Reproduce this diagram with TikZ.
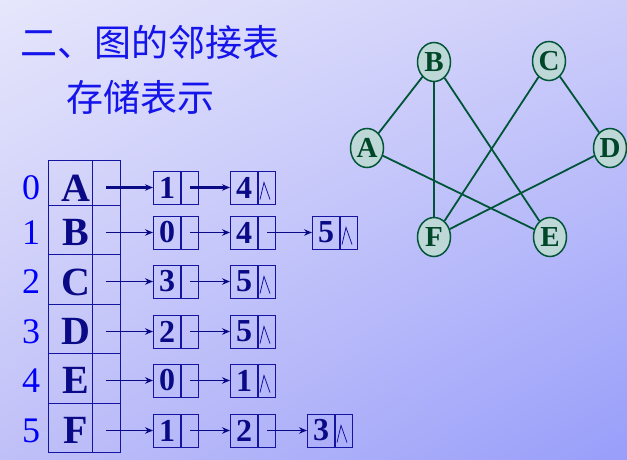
\documentclass[tikz,border=0pt]{standalone}
\usepackage{fontspec}
\setmainfont{Liberation Serif}
\newfontfamily\cjk{Noto Sans CJK SC}
\usetikzlibrary{shapes.geometric,arrows.meta,calc,shadings}
\definecolor{navyc}{RGB}{10,10,135}
\definecolor{boxc}{RGB}{20,20,160}
\definecolor{brblue}{RGB}{0,0,250}
\definecolor{titc}{RGB}{20,20,235}
\definecolor{grn}{RGB}{0,85,55}
\definecolor{grn2}{RGB}{0,70,40}
\definecolor{vfill}{RGB}{190,215,215}
\definecolor{bgul}{RGB}{230,230,252}
\definecolor{bgur}{RGB}{205,205,250}
\definecolor{bgll}{RGB}{192,192,248}
\definecolor{bglr}{RGB}{152,158,250}
\newcommand\listnode[4]{%
  \node[datac] (#1) at (#2,#3) {#4};
  \node[ptrc] (#1p) at (#1.east) {};}
\newcommand\nilmark[1]{%
  \draw[nil] ($(#1.south west)+(2,-5)$) -- ($(#1.north west)+(6,12)$) -- ($(#1.south west)+(12,-5)$);}
\begin{document}
\begin{tikzpicture}[x=1pt,y=-1pt,
  cell/.style={draw=boxc, line width=1pt, inner sep=0pt, rectangle},
  datac/.style={cell, minimum width=27pt, minimum height=33pt, anchor=west,
    font=\bfseries\fontsize{32}{32}\selectfont, text=navyc},
  ptrc/.style={cell, minimum width=17pt, minimum height=33pt, anchor=west},
  link/.style={draw=navyc, line width=1.8pt, -{Stealth[length=8pt,width=6.5pt]}},
  nil/.style={draw=boxc, line width=0.8pt},
  idx/.style={inner sep=0pt, text=brblue, font=\fontsize{36}{36}\selectfont},
  vlab/.style={inner sep=0pt, text=navyc, font=\bfseries\fontsize{40}{40}\selectfont},
  vtx/.style={ellipse, draw=grn, line width=1.5pt, fill=vfill, minimum width=33pt,
    minimum height=39pt, inner sep=0pt, text=grn2, font=\bfseries\fontsize{29}{29}\selectfont},
  gedge/.style={draw=grn, line width=1.8pt},
  title/.style={inner sep=0pt, anchor=west, text=titc, font=\cjk\fontsize{37}{37}\selectfont}]
\shade[upper left=bgul, upper right=bgur, lower left=bgll, lower right=bglr] (0,0) rectangle (627,460);
\useasboundingbox (0,0) rectangle (627,460);
% title
\node[title] (t1) at (20,42) {二、图的邻接表};
\node[title] (t2) at (66,97) {存储表示};
% vertex table
\foreach \i/\L/\t/\b/\c in {0/A/160/205/188, 1/B/205/254/232.5, 2/C/254/304/282,
    3/D/304/353/331.5, 4/E/353/403/380.5, 5/F/403/452/430.5}{
  \node[cell, minimum width=44pt, minimum height={(\b-\t)*1pt}] (v\i) at (70,{(\t+\b)/2}) {};
  \node[cell, minimum width=28pt, minimum height={(\b-\t)*1pt}] (p\i) at (106,{(\t+\b)/2}) {};
  \node[idx] (n\i) at (31,\c) {\i};
  \node[vlab] (l\i) at (76,\c) {\L};
}
% row 0
\listnode{a1}{153}{187.5}{1}
\listnode{a2}{230}{187.5}{4}
\nilmark{a2p}
\draw[link, line width=2.4pt] (p0.center |- a1.west) -- (a1.west);
\draw[link, line width=2.4pt] (a1p.center) -- (a2.west);
% row 1
\listnode{b1}{153}{232.5}{0}
\listnode{b2}{230}{232.5}{4}
\listnode{b3}{312}{232.5}{5}
\nilmark{b3p}
\draw[link] (p1.center |- b1.west) -- (b1.west);
\draw[link] (b1p.center) -- (b2.west);
\draw[link] (b2p.center) -- (b3.west);
% row 2
\listnode{c1}{153}{281.5}{3}
\listnode{c2}{230}{281.5}{5}
\nilmark{c2p}
\draw[link] (p2.center |- c1.west) -- (c1.west);
\draw[link] (c1p.center) -- (c2.west);
% row 3
\listnode{d1}{153}{331.5}{2}
\listnode{d2}{230}{331.5}{5}
\nilmark{d2p}
\draw[link] (p3.center |- d1.west) -- (d1.west);
\draw[link] (d1p.center) -- (d2.west);
% row 4
\listnode{e1}{153}{380.5}{0}
\listnode{e2}{230}{380.5}{1}
\nilmark{e2p}
\draw[link] (p4.center |- e1.west) -- (e1.west);
\draw[link] (e1p.center) -- (e2.west);
% row 5
\listnode{f1}{153}{430.5}{1}
\listnode{f2}{230}{430.5}{2}
\listnode{f3}{307}{430.5}{3}
\nilmark{f3p}
\draw[link] (p5.center |- f1.west) -- (f1.west);
\draw[link] (f1p.center) -- (f2.west);
\draw[link] (f2p.center) -- (f3.west);
% graph
\node[vtx] (gB) at (434,62) {B};
\node[vtx] (gC) at (549,61) {C};
\node[vtx] (gA) at (367,148) {A};
\node[vtx] (gD) at (610,148) {D};
\node[vtx] (gF) at (434,237) {F};
\node[vtx] (gE) at (550,237) {E};
\draw[gedge] (gA) -- (gB);
\draw[gedge] (gA) -- (gE);
\draw[gedge] (gB) -- (gF);
\draw[gedge] (gB) -- (gE);
\draw[gedge] (gC) -- (gF);
\draw[gedge] (gC) -- (gD);
\draw[gedge] (gD) -- (gF);
\end{tikzpicture}
\end{document}
